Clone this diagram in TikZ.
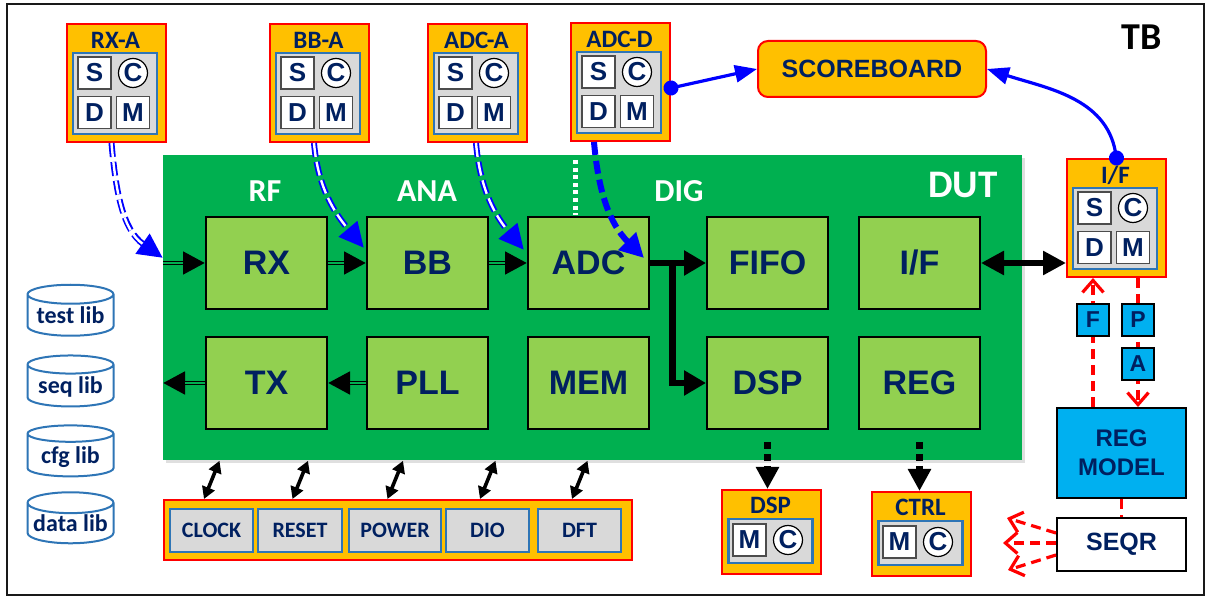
\documentclass[tikz,border=0pt]{standalone}
\usepackage{fontspec}
\setmainfont{Liberation Sans}
\newfontfamily\calib{Carlito}
\usetikzlibrary{positioning,calc,arrows.meta,shapes.geometric,shadows}

\definecolor{uvmorange}{HTML}{FFC000}
\definecolor{uvmred}{HTML}{FF0000}
\definecolor{navy}{HTML}{002060}
\definecolor{agtblue}{HTML}{2E75B6}
\definecolor{agtgray}{HTML}{D9D9D9}
\definecolor{dutgreen}{HTML}{00B050}
\definecolor{blkgreen}{HTML}{92D050}
\definecolor{regblue}{HTML}{00B0F0}
\definecolor{arrblue}{HTML}{0000FF}

\tikzset{
  agentbox/.style={draw=uvmred, fill=uvmorange, line width=1pt, inner sep=0pt, minimum width=49.5pt, minimum height=59pt},
  smallagent/.style={agentbox, minimum height=42pt},
  agenttitle/.style={font=\calib\bfseries\fontsize{12.5}{14}\selectfont, text=navy, inner sep=0pt},
  innerbox/.style={draw=agtblue, fill=agtgray, line width=1.2pt, inner sep=0pt, minimum width=42pt, minimum height=40.5pt},
  smallinner/.style={innerbox, minimum height=22pt},
  sqbox/.style={draw=black!70, fill=white, line width=0.6pt, inner sep=0pt, minimum width=16.5pt, minimum height=16pt, font=\bfseries\fontsize{13}{15}\selectfont, text=navy},
  cbox/.style={circle, draw=black, fill=white, line width=0.6pt, inner sep=0pt, minimum size=14.5pt, font=\bfseries\fontsize{13}{15}\selectfont, text=navy},
  dutbox/.style={fill=dutgreen, inner sep=0pt, minimum width=429.5pt, minimum height=152.5pt, drop shadow={shadow xshift=1.2pt, shadow yshift=-1.2pt, opacity=0.25}},
  zonelabel/.style={font=\calib\bfseries\fontsize{16}{18}\selectfont, text=white, inner sep=0pt},
  block/.style={draw=black, fill=blkgreen, line width=1pt, inner sep=0pt, minimum width=60.5pt, minimum height=46pt, font=\bfseries\fontsize{17}{20}\selectfont, text=navy},
  scoreboard/.style={draw=uvmred, fill=uvmorange, line width=1pt, rounded corners=5pt, minimum width=114pt, minimum height=28pt, font=\bfseries\fontsize{12.5}{14}\selectfont, text=navy},
  barbox/.style={draw=uvmred, fill=uvmorange, line width=1pt, inner sep=0pt, minimum width=234pt, minimum height=30pt},
  ctlbox/.style={draw=agtblue, fill=agtgray, line width=1.2pt, inner sep=0pt, minimum height=21.5pt, font=\calib\bfseries\fontsize{11}{13}\selectfont, text=navy},
  libcyl/.style={cylinder, shape border rotate=90, aspect=0.28, draw=agtblue, line width=1pt, fill=white, inner sep=0pt, minimum width=43pt, minimum height=25.5pt, font=\calib\bfseries\fontsize{12}{14}\selectfont, text=navy, text height=8pt, text depth=0pt},
  regmodel/.style={draw=black, fill=regblue, line width=1pt, inner sep=0pt, minimum width=64.5pt, minimum height=45pt, align=center, font=\bfseries\fontsize{12}{14.5}\selectfont, text=navy},
  seqrbox/.style={draw=black, fill=white, line width=1pt, inner sep=0pt, minimum width=64.5pt, minimum height=26.5pt, font=\bfseries\fontsize{12.5}{14}\selectfont, text=navy},
  tagbox/.style={draw=black, fill=regblue, line width=0.8pt, inner sep=0pt, minimum size=16pt, font=\bfseries\fontsize{11.5}{13}\selectfont, text=navy},
  tbframe/.style={draw=black!90, line width=1.2pt},
  divider/.style={draw=white, line width=2.5pt, dash pattern=on 2pt off 1.8pt},
  dblarrow/.style={draw=black, line width=2.4pt, -{Triangle[length=11pt,width=11pt]}, postaction={draw=dutgreen, line width=0.8pt, -, shorten >=11pt}},
  thickarrow/.style={draw=black, line width=3.2pt, -{Triangle[length=11pt,width=12pt]}},
  bigbiarrow/.style={draw=black, line width=2.8pt, {Triangle[length=11.5pt,width=11.5pt]}-{Triangle[length=11.5pt,width=11.5pt]}},
  biarrow/.style={draw=black, line width=1.8pt, {Triangle[length=6pt,width=6.5pt]}-{Triangle[length=6pt,width=6.5pt]}},
  dotarrow/.style={draw=black, line width=3.5pt, dash pattern=on 3.5pt off 2.5pt, -{Triangle[length=11pt,width=11pt]}},
  bluedbl/.style={draw=arrblue, line width=3pt, dash pattern=on 7pt off 2.5pt, -{Triangle[length=12.5pt,width=11.5pt]}, postaction={draw=white, line width=1.2pt, -, shorten >=12.5pt}},
  bluethick/.style={draw=arrblue, line width=3pt, dash pattern=on 6.5pt off 3pt, -{Triangle[length=12pt,width=12pt]}},
  sbarrow/.style={draw=arrblue, line width=1.6pt, {Circle[length=7.5pt]}-{Triangle[length=11pt,width=8.5pt]}, shorten <=-3.75pt},
  redarrow/.style={draw=uvmred, line width=1.6pt, dash pattern=on 5pt off 3pt, -{Straight Barb[length=6pt,width=10.5pt]}},
  reddash/.style={draw=uvmred, line width=1.6pt, dash pattern=on 5pt off 3pt},
}

\newcommand{\scdmagent}[4]{%
  \node[agentbox, anchor=north west] (#1) at (#2,#3) {};
  \node[agenttitle] (#1t) at ($(#1.north west)+(49.5,17)$) {#4};
  \node[innerbox] (#1i) at ($(#1.north west)+(49,70.5)$) {};
  \node[sqbox] (#1s) at ($(#1.north west)+(28.5,50)$) {S};
  \node[cbox] (#1c) at ($(#1.north west)+(67,50)$) {C};
  \node[sqbox] (#1d) at ($(#1.north west)+(28.5,89.5)$) {D};
  \node[sqbox] (#1m) at ($(#1.north west)+(67,89.5)$) {M};
}
\newcommand{\mcagent}[4]{%
  \node[smallagent, anchor=north west] (#1) at (#2,#3) {};
  \node[agenttitle] (#1t) at ($(#1.north west)+(49.5,16)$) {#4};
  \node[smallinner] (#1i) at ($(#1.north west)+(49.5,52)$) {};
  \node[sqbox] (#1m) at ($(#1.north west)+(28.5,51)$) {M};
  \node[cbox] (#1c) at ($(#1.north west)+(67,51)$) {C};
}

\begin{document}
\begin{tikzpicture}[x=0.5pt,y=-0.5pt]
  \useasboundingbox (0,0) rectangle (1207,598);
  \draw[tbframe] (7,4) rectangle (1204,595);
  \node[font=\calib\bfseries\fontsize{19}{22}\selectfont, inner sep=0pt] (tb) at (1142,37) {TB};

  % DUT and its blocks
  \node[dutbox, anchor=north west] (dut) at (163,155) {};
  \node[zonelabel] (rf) at (265,191) {RF};
  \node[zonelabel] (ana) at (427,191) {ANA};
  \node[zonelabel] (dig) at (679,191) {DIG};
  \node[zonelabel, font=\calib\bfseries\fontsize{19.5}{22}\selectfont] (duttxt) at (963,185) {DUT};
  \draw[divider] (575,160) -- (575,215);

  \node[block] (rx) at (266.5,263) {RX};
  \node[block, right=19pt of rx] (bb) {BB};
  \node[block, right=19pt of bb] (adc) {ADC};
  \node[block, right=28pt of adc] (fifo) {FIFO};
  \node[block, right=14.5pt of fifo] (ifb) {I/F};
  \node[block, below=13pt of rx] (tx) {TX};
  \node[block, below=13pt of bb] (pll) {PLL};
  \node[block, below=13pt of adc] (mem) {MEM};
  \node[block, below=13pt of fifo] (dspb) {DSP};
  \node[block, below=13pt of ifb] (reg) {REG};

  \draw[dblarrow] (rx.west -| dut.west) -- (rx);
  \draw[dblarrow] (rx) -- (bb);
  \draw[dblarrow] (bb) -- (adc);
  \draw[dblarrow] (tx) -- (tx.west -| dut.west);
  \draw[dblarrow] (pll) -- (tx);
  \coordinate (tap) at ($(adc.east)!0.4!(fifo.west)$);
  \draw[thickarrow] (adc) -- (fifo);
  \draw[thickarrow] (tap) |- (dspb);

  % agents
  \scdmagent{rxa}{66}{23}{RX-A}
  \scdmagent{bba}{269}{23}{BB-A}
  \scdmagent{adca}{427}{23}{ADC-A}
  \scdmagent{adcd}{570}{22}{ADC-D}
  \scdmagent{ifa}{1066}{158}{I/F}
  \mcagent{dspa}{721}{489}{DSP}
  \mcagent{ctrla}{871}{491}{CTRL}

  \node[scoreboard] (sb) at (872,69) {SCOREBOARD};

  \draw[bluedbl] ([xshift=-2.5pt]rxa.south) to[out=-85,in=145] ([yshift=2.5pt]dut.west |- rx.west);
  \draw[bluedbl] ([xshift=-2.75pt]bba.south) to[out=-85,in=130] ([shift={(-1pt,7.5pt)}]bb.west);
  \draw[bluedbl] ([xshift=-0.75pt]adca.south) to[out=-85,in=130] ([shift={(-1.5pt,6.5pt)}]adc.west);
  \draw[bluethick] ([xshift=-13.25pt]adcd.south) to[out=-85,in=135] ([shift={(-3pt,2.5pt)}]adc.east);
  \draw[sbarrow] ([yshift=-3pt]adcd.east) -- (sb.west);
  \draw[sbarrow] (ifa.north) to[out=100,in=-18] (sb.east);
  \draw[bigbiarrow] (ifb.east) -- (ifb.east -| ifa.west);

  % libraries
  \node[libcyl] (testlib) at (70.5,315.5) {test lib};
  \node[libcyl] (seqlib) at (70.5,386) {seq lib};
  \node[libcyl] (cfglib) at (70.5,455.5) {cfg lib};
  \node[libcyl] (datalib) at (70.5,523.5) {data lib};

  % control interfaces
  \node[barbox, anchor=north west] (bar) at (163,499) {};
  \node[ctlbox, minimum width=41.5pt] (clk) at (211.5,530.5) {CLOCK};
  \node[ctlbox, minimum width=42pt] (rst) at (300,530.5) {RESET};
  \node[ctlbox, minimum width=46pt] (pwr) at (395,530.5) {POWER};
  \node[ctlbox, minimum width=41.5pt] (dio) at (487.5,530.5) {DIO};
  \node[ctlbox, minimum width=41.5pt] (dft) at (579.5,530.5) {DFT};
  \foreach \c in {clk,rst,pwr,dio,dft}
    \draw[biarrow] ([xshift=-3.75pt]\c.north |- bar.north) -- ([xshift=4pt]\c.north |- dut.south);

  \draw[dotarrow] ([yshift=-6pt]dspb.south) -- (dspb.south |- dspa.north);
  \draw[dotarrow] ([yshift=-6pt]reg.south) -- (reg.south |- ctrla.north);

  % register model
  \node[regmodel] (regm) at (1121.5,453) {REG\\MODEL};
  \node[seqrbox] (seqr) at (1121.5,544.5) {SEQR};
  \coordinate (ftagpos) at (1093,320);
  \coordinate (ptagpos) at (1138,320);
  \draw[redarrow] (regm.north -| ftagpos) -- (ifa.south -| ftagpos);
  \draw[redarrow] (ifa.south -| ptagpos) -- (regm.north -| ptagpos);
  \node[tagbox] (ftag) at (ftagpos) {F};
  \node[tagbox] (ptag) at (ptagpos) {P};
  \node[tagbox] (atag) at (1138,364) {A};
  \draw[reddash] (regm) -- (seqr);
  \coordinate (sq1) at (1007,518);
  \coordinate (sq2) at (1003,543);
  \coordinate (sq3) at (1008,570);
  \draw[redarrow] ([yshift=5.75pt]seqr.west) -- (sq1);
  \draw[redarrow] ([yshift=0.75pt]seqr.west) -- (sq2);
  \draw[redarrow] ([yshift=-5.25pt]seqr.west) -- (sq3);
\end{tikzpicture}
\end{document}
